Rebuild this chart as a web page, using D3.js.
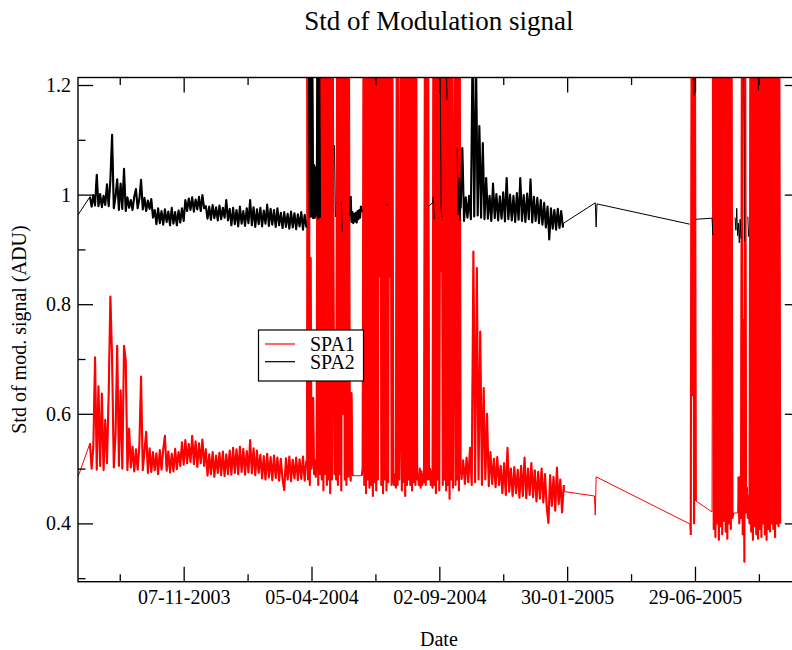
<!DOCTYPE html>
<html><head><meta charset="utf-8">
<script src="https://cdn.jsdelivr.net/npm/d3@7"></script>
<style>
body{margin:0;background:#fff}
svg{display:block}
text{font-family:"Liberation Serif","Times New Roman",serif;fill:#000}
</style>
</head><body>
<svg id="chart" width="792" height="650"></svg>
<script>
// ================= DATA =================
// x values are day counts from originDate; runs are sampled every `step` days
const originDate = "2003-07-06";
const xDomainDays = [0, 847];
const yDomain = [0.2936, 1.2137];
const yMajorTicks = [0.4, 0.6, 0.8, 1.0, 1.2];
const yMajorLabels = ["0.4", "0.6", "0.8", "1", "1.2"];
const yMinorTicks = [0.3, 0.5, 0.7, 0.9, 1.1];
const xMajorDates = ["2003-11-07", "2004-04-05", "2004-09-02", "2005-01-30", "2005-06-29"];
const xMajorLabels = ["07-11-2003", "05-04-2004", "02-09-2004", "30-01-2005", "29-06-2005"];
const xMinorDates = ["2003-08-24", "2004-01-21", "2004-06-19", "2004-11-16", "2005-04-15", "2005-09-12"];
const seriesNames = ["SPA1", "SPA2"];
const seriesColors = ["#ff0000", "#000000"];

// ---- SPA1 (red) ----
const spa1Lead = [[0, 0.485]];
const spa1RunA = [ // from day 14, every 2 days
 0.546,0.500,0.540,0.703,0.498,0.650,0.505,0.637,0.497,0.589,
 0.510,0.637,0.814,0.701,0.502,0.560,0.724,0.505,0.643,0.500,
 0.724,0.698,0.497,0.573,0.502,0.540,0.495,0.535,0.498,0.542,
 0.668,0.497,0.532,0.567,0.492,0.537,0.494,0.530,0.497,0.528,
 0.490,0.534,0.498,0.535,0.560,0.496,0.531,0.493,0.527,0.495,
 0.536,0.499,0.530,0.505,0.548,0.507,0.552,0.510,0.545,0.512,
 0.560,0.508,0.550,0.503,0.546,0.510,0.553,0.505,0.535,0.487,
 0.526,0.490,0.530,0.485,0.524,0.492,0.529,0.488,0.531,0.486,
 0.526,0.490,0.533,0.489,0.538,0.492,0.535,0.490,0.540,0.494,
 0.536,0.489,0.532,0.493,0.552,0.491,0.537,0.488,0.533,0.492,
 0.525,0.482,0.523,0.480,0.527,0.484,0.521,0.479,0.524,0.483,
 0.520,0.478,0.518,0.481,0.461,0.519,0.480,0.522,0.477,0.516,
 0.482,0.520,0.479,0.517,0.481,0.522,0.478,0.515];
const spa1RunB = [ // from day 269, daily
 1.26,0.48,1.26,0.47,0.884,0.50,0.52,0.629,0.49,0.515,
 0.485,0.51,1.26,0.47,1.26,0.49,1.26,0.48,1.26,0.46,
 1.26,0.49,1.26,0.47,1.26,0.48,1.26,0.455,1.26,0.48,
 1.26,0.788,0.49,0.73,0.48,1.26,0.47,1.26,0.49,1.26,
 0.46,1.26,0.60,1.26,0.48,1.26,0.47,1.26,0.485,1.26,
 0.50,0.478,0.638,0.49,0.487];
const spa1RunC = [ // from day 333, daily
 0.487,0.50,1.26,0.47,1.26,0.455,1.26,0.48,1.26,0.465,
 1.26,0.47,1.26,0.45,1.26,0.475,1.26,0.46,1.26,0.48,
 1.26,0.851,1.26,0.47,1.26,0.455,1.26,0.48,1.26,0.46,
 1.26,0.475,1.26,0.85,1.26,0.47,1.26,0.48,0.47,0.49,
 0.465,1.26,0.47,1.26,0.48,0.60,1.26,0.46,1.26,0.475,
 1.26,0.45,1.26,0.47,1.26,0.48,1.26,0.47,1.26,0.46,
 1.26,0.475,1.26,0.47,1.26,0.48,0.49,0.47,0.50,0.465,
 0.495,0.47,0.49,0.475,1.26,0.47,1.26,0.48,1.26,0.48,
 0.50,0.47,0.495,0.465,1.26,0.47,1.26,0.455,1.26,0.48,
 1.26,0.46,1.26,0.86,1.26,0.47,1.26,0.48,1.26,0.46,
 1.26,0.47,1.26,0.445,1.26,0.48,1.26,0.465,0.897,1.26,
 0.47,1.26,0.48,1.26,0.46,1.26,0.49];
const spa1RunD = [ // from day 450, every 2 days
 0.480,0.515,0.472,0.520,0.475,0.538,0.470,0.896,0.475,0.866,
 0.480,0.750,0.470,0.647,0.480,0.600,0.468,0.530,0.472,0.518,
 0.466,0.521,0.470,0.505,0.455,0.510,0.452,0.538,0.458,0.500,
 0.450,0.503,0.455,0.498,0.447,0.505,0.450,0.520,0.446,0.500,
 0.452,0.510,0.448,0.497,0.440,0.494,0.445,0.500,0.438,0.490,
 0.430,0.401,0.488,0.432,0.485,0.423,0.502,0.435,0.480,0.420,
 0.470];
const spa1Gap2005a = [[571, 0.458], [606, 0.450], [607, 0.415], [608, 0.485], [718, 0.399]];
const spa1RunE = [0.379, 1.26, 0.634, 1.26, 0.40, 1.26, 0.441]; // from day 719, daily
const spa1Gap2005b = [[744, 0.421]];
const spa1RunF = [ // from day 745, daily
 1.26,0.39,1.26,0.375,1.26,0.40,1.26,0.37,1.26,0.395,
 1.26,0.38,1.26,0.405,1.26,0.385,1.26,0.372,1.26,0.40,
 1.26,0.39,1.26,0.41,0.419];
const spa1Gap2005c = [[774, 0.419]];
const spa1RunG = [ // from day 775, daily
 0.485,0.40,0.485,0.41,1.26,0.38,0.771,0.33,1.26,0.42,
 0.465,0.41,0.45,0.40,1.26,0.385,1.26,0.37,1.26,0.395,
 1.26,0.38,1.26,0.372,1.26,0.39,1.26,0.375,1.26,0.40,
 1.26,0.38,1.26,0.37,1.26,0.39,1.26,0.385,1.26,0.40,
 1.26,0.39,1.26,0.375,1.26,0.40,1.26,0.395,1.26,0.40];

// ---- SPA2 (black) ----  null = break in the line
const spa2Lead = [[0, 0.963]];
const spa2RunA = [ // from day 14, every 2 days
 0.996,0.978,0.999,0.980,1.036,0.979,1.001,0.977,0.998,0.981,
 1.019,0.979,1.027,1.109,0.975,0.996,1.028,0.972,1.020,0.974,
 1.047,0.970,0.995,0.976,0.990,0.972,0.996,1.010,0.975,0.992,
 1.027,0.973,0.994,0.970,0.989,0.974,0.992,0.958,0.972,0.946,
 0.975,0.948,0.970,0.945,0.973,0.950,0.969,0.944,0.976,0.947,
 0.968,0.944,0.971,0.949,0.975,0.952,0.990,0.970,0.993,0.972,
 0.995,0.969,0.991,0.973,0.996,0.970,0.999,0.975,0.979,0.956,
 0.978,0.954,0.981,0.957,0.977,0.953,0.980,0.955,0.976,0.958,
 0.990,0.953,0.974,0.944,0.976,0.946,0.972,0.942,0.978,0.947,
 0.970,0.943,0.975,0.948,0.990,0.944,0.977,0.941,0.973,0.946,
 0.976,0.942,0.971,0.947,0.982,0.943,0.974,0.945,0.972,0.941,
 0.975,0.944,0.967,0.939,0.968,0.941,0.965,0.938,0.969,0.940,
 0.966,0.937,0.964,0.942,0.968,0.936,0.963,0.940,null];
const spa2RunB = [ // from day 271, daily
 1.26,0.959,1.26,0.960,1.26,0.957,1.054,0.958,1.050,0.962,
 1.25,0.957,1.26,0.958,null];
const spa2Mid1 = [[301, 1.09], [302, 0.959], [302, null], [309, 0.987], [310, 0.932], [310, null]];
const spa2RunC = [ // from day 319, daily
 0.962,0.996,0.950,0.968,0.948,0.965,0.951,0.967,0.949,0.970,
 0.955,0.972,0.958,0.978,0.968,null];
const spa2Mid2 = [[362, 0.983], [363, 0.980], [363, null],
 [411, 0.978], [416, 0.985], [417, 0.996], [418, 0.955], [418, null],
 [425, 1.26], [426, 0.978], [427, 0.959], [427, null],
 [432, 1.26], [433, 1.173], [433, null],
 [445, 1.085], [446, 0.963], [447, 1.030], [448, 0.952]];
const spa2RunD = [ // from day 449, every 2 days
 0.975,1.085,0.952,0.995,0.958,0.998,0.955,1.26,0.960,1.26,
 0.962,1.125,0.958,1.094,0.955,1.030,0.956,0.998,0.952,1.020,
 0.957,1.001,0.953,0.997,0.956,1.004,0.951,1.030,0.955,1.000,
 0.953,0.998,0.950,1.003,0.954,1.030,0.952,0.999,0.950,1.002,
 0.955,1.028,0.949,0.996,0.952,0.994,0.948,0.990,0.945,0.985,
 0.940,0.978,0.918,0.975,0.938,0.972,0.936,0.974,0.939,0.970,
 0.940];
const spa2Tail = [[570, 0.948], [607, 0.985], [608, 0.941], [609, 0.983], [718, 0.946], [718, null],
 [722, 1.26], [723, 1.18], [723, null],
 [725, 0.955], [744, 0.957], [745, 0.926], [745, null],
 [771, 0.958], [772, 0.935], [773, 0.975], [774, 0.925], [775, 0.948], [776, 0.912], [777, 0.955], [778, 0.920], [778, null],
 [781, 1.26], [782, 0.914], [782, null],
 [786, 0.960], [787, 0.923], [787, null],
 [798, 1.26], [798.5, 1.19]];

// ================= BUILD =================
const run = (start, step, vals) => ({dense: true, pts: vals.map((v, i) => ({d: start + i * step, v}))});
const pairs = arr => ({dense: false, pts: arr.map(([d, v]) => ({d, v}))});

const spa1Pieces = [pairs(spa1Lead), run(14, 2, spa1RunA), run(269, 1, spa1RunB), run(333, 1, spa1RunC),
  run(450, 2, spa1RunD), pairs(spa1Gap2005a), run(719, 1, spa1RunE), pairs(spa1Gap2005b),
  run(745, 1, spa1RunF), pairs(spa1Gap2005c), run(775, 1, spa1RunG)];
const spa2Pieces = [pairs(spa2Lead), run(14, 2, spa2RunA), run(271, 1, spa2RunB), pairs(spa2Mid1),
  run(319, 1, spa2RunC), pairs(spa2Mid2), run(449, 2, spa2RunD), pairs(spa2Tail)];

const L = 78, T = 77.5, R = 799.8, B = 581.7;
const t0 = Date.parse(originDate);
const toDate = d => new Date(t0 + d * 86400000);
const parse = s => new Date(Date.parse(s));

const x = d3.scaleUtc().domain(xDomainDays.map(toDate)).range([L, R]);
const y = d3.scaleLinear().domain(yDomain).range([B, T]);

const svg = d3.select("#chart");
svg.append("defs").append("clipPath").attr("id", "plotclip")
  .append("rect").attr("x", L).attr("y", T).attr("width", R - L).attr("height", B - T);

const line = d3.line().defined(p => p.v !== null).x(p => x(toDate(p.d))).y(p => y(p.v));
const plot = svg.append("g").attr("clip-path", "url(#plotclip)");
[spa1Pieces, spa2Pieces].forEach((pieces, i) => {
  const g = plot.append("g");
  // whole series as one thin line (connects sparse stretches)
  g.append("path").datum(pieces.flatMap(p => p.pts)).attr("d", line)
    .attr("fill", "none").attr("stroke", seriesColors[i]).attr("stroke-width", 1);
  // densely sampled stretches: the many overlapping samples read as a filled band
  pieces.filter(p => p.dense).forEach(p => {
    g.append("path").datum(p.pts).attr("d", line)
      .attr("fill", "none").attr("stroke", seriesColors[i]).attr("stroke-width", 2.1)
      .attr("stroke-linejoin", "round");
  });
});

// axes
function styleAxis(g) {
  g.select(".domain").remove();
  g.selectAll(".tick line").attr("stroke", "#000").attr("stroke-width", 1.3);
  g.selectAll(".tick text").attr("font-size", 20).attr("font-family", "Liberation Serif, serif").attr("fill", "#000");
}
const xMaj = xMajorDates.map(parse), xMin = xMinorDates.map(parse);
svg.append("g").attr("transform", `translate(0,${B})`)
  .call(d3.axisBottom(x).tickValues(xMaj).tickSize(-15).tickPadding(8.6)
    .tickFormat((d, i) => xMajorLabels[i])).call(styleAxis);
svg.append("g").attr("transform", `translate(0,${B})`)
  .call(d3.axisBottom(x).tickValues(xMin).tickSize(-7.5).tickFormat("")).call(styleAxis);
svg.append("g").attr("transform", `translate(0,${T})`)
  .call(d3.axisTop(x).tickValues(xMaj).tickSize(-15).tickFormat("")).call(styleAxis);
svg.append("g").attr("transform", `translate(0,${T})`)
  .call(d3.axisTop(x).tickValues(xMin).tickSize(-7.5).tickFormat("")).call(styleAxis);
svg.append("g").attr("transform", `translate(${L},0)`)
  .call(d3.axisLeft(y).tickValues(yMajorTicks).tickSize(-15).tickPadding(7)
    .tickFormat((d, i) => yMajorLabels[i])).call(styleAxis);
svg.append("g").attr("transform", `translate(${L},0)`)
  .call(d3.axisLeft(y).tickValues(yMinorTicks).tickSize(-7.5).tickFormat("")).call(styleAxis);
svg.append("g").attr("transform", `translate(${R},0)`)
  .call(d3.axisRight(y).tickValues(yMajorTicks).tickSize(-15).tickFormat("")).call(styleAxis);
svg.append("g").attr("transform", `translate(${R},0)`)
  .call(d3.axisRight(y).tickValues(yMinorTicks).tickSize(-7.5).tickFormat("")).call(styleAxis);

svg.append("rect").attr("x", L).attr("y", T).attr("width", R - L).attr("height", B - T)
  .attr("fill", "none").attr("stroke", "#000").attr("stroke-width", 1.4);

// titles
svg.append("text").attr("x", (L + R) / 2).attr("y", 30).attr("text-anchor", "middle")
  .attr("font-size", 27).text("Std of Modulation signal");
svg.append("text").attr("x", (L + R) / 2).attr("y", 646).attr("text-anchor", "middle")
  .attr("font-size", 20).text("Date");
svg.append("text").attr("transform", `translate(26,${(T + B) / 2}) rotate(-90)`).attr("text-anchor", "middle")
  .attr("font-size", 20).text("Std of mod. signal (ADU)");

// legend
const lg = svg.append("g");
lg.append("rect").attr("x", 258.5).attr("y", 330).attr("width", 105).attr("height", 51)
  .attr("fill", "#fff").attr("stroke", "#000").attr("stroke-width", 1.2);
seriesNames.forEach((n, i) => {
  const yy = 344 + i * 17.7;
  lg.append("line").attr("x1", 265).attr("x2", 295).attr("y1", yy).attr("y2", yy)
    .attr("stroke", seriesColors[i]).attr("stroke-width", 1.2);
  lg.append("text").attr("x", 310).attr("y", yy + 7).attr("font-size", 20).text(n);
});
</script>
</body></html>
